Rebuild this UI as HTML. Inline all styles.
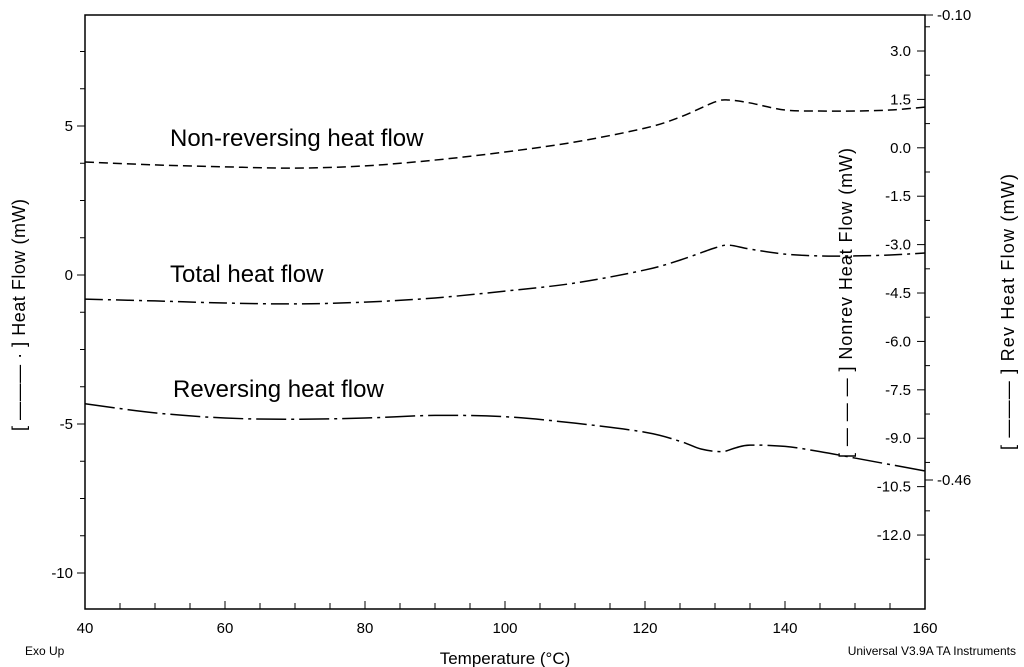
<!DOCTYPE html>
<html><head><meta charset="utf-8"><style>
html,body{margin:0;padding:0;background:#fff;}
svg{display:block;font-family:"Liberation Sans",Arial,sans-serif;}
</style></head><body>
<svg id="chart" width="1024" height="667" viewBox="0 0 1024 667">
<g id="axes"></g>
<g id="series"></g>
<text x="170" y="146" font-size="24">Non-reversing heat flow</text>
<text x="170" y="282" font-size="24">Total heat flow</text>
<text x="173" y="397" font-size="24">Reversing heat flow</text>
<text x="25" y="655" font-size="12">Exo Up</text>
<text x="505" y="664" font-size="17" text-anchor="middle">Temperature (°C)</text>
<text x="1016" y="655" font-size="12" text-anchor="end">Universal V3.9A TA Instruments</text>
<text transform="translate(25,315) rotate(-90)" font-size="18" text-anchor="middle" textLength="232">[ ——— · ] Heat Flow (mW)</text>
<text transform="translate(852,303) rotate(-90)" font-size="18" text-anchor="middle" textLength="310">[ — — — ] Nonrev Heat Flow (mW)</text>
<text transform="translate(1014,312) rotate(-90)" font-size="18" text-anchor="middle" textLength="276">[ ——— ] Rev Heat Flow (mW)</text>
</svg>
<script>
const temps = [40,50,60,70,80,90,100,110,120,125,130,132,135,140,145,150,155,160];
const nonrevVals = [-0.44,-0.53,-0.59,-0.63,-0.56,-0.38,-0.13,0.18,0.61,0.95,1.42,1.48,1.39,1.17,1.14,1.14,1.17,1.26];
const totalVals = [-0.81,-0.87,-0.94,-0.97,-0.91,-0.77,-0.54,-0.27,0.17,0.5,0.91,1.0,0.87,0.7,0.64,0.64,0.67,0.74];
const revTemps = [40,50,60,70,80,90,100,110,120,125,128,131,133,135,140,145,150,155,160];
const revVals = [-0.401,-0.408,-0.412,-0.413,-0.412,-0.410,-0.411,-0.416,-0.423,-0.430,-0.436,-0.438,-0.435,-0.433,-0.434,-0.438,-0.443,-0.448,-0.453];
const xTicks = [40,60,80,100,120,140,160];
const leftTicks = [5,0,-5,-10];
const nonrevTicks = [3.0,1.5,0.0,-1.5,-3.0,-4.5,-6.0,-7.5,-9.0,-10.5,-12.0];
const revTicks = [-0.10,-0.46];

const L=85,R=925,T=15,B=609;
const X=t=>L+(t-40)*(R-L)/120;
const YL=v=>275-v*29.8;
const YN=v=>147.8-v*32.27;
const YR=v=>15+(-0.10-v)*1291.7;
const NS="http://www.w3.org/2000/svg";
const axes=document.getElementById('axes'), ser=document.getElementById('series');
function mk(tag,attrs,parent){const e=document.createElementNS(NS,tag);for(const k in attrs)e.setAttribute(k,attrs[k]);parent.appendChild(e);return e;}
function ln(x1,y1,x2,y2,w){return mk('line',{x1,y1,x2,y2,stroke:'#000','stroke-width':w||1},axes);}

let fr=mk('rect',{x:L,y:T,width:R-L,height:B-T,fill:'none',stroke:'#000','stroke-width':1.5},axes);


for(let t=40;t<=160;t+=5){ln(X(t),B,X(t),B-(t%20===0?8:6));}
xTicks.forEach(t=>{const e=mk('text',{x:X(t),y:B+24,'font-size':15,'text-anchor':'middle'},axes);e.textContent=t;

});
for(let v=-11.25;v<=8.75;v+=1.25){if(YL(v)<T||YL(v)>B)continue;ln(L,YL(v),L-(v%5===0?8:5),YL(v));}
leftTicks.forEach(v=>{const e=mk('text',{x:L-12,y:YL(v)+5,'font-size':15,'text-anchor':'end'},axes);e.textContent=v;

});
nonrevTicks.forEach(v=>{ln(R,YN(v),R-8,YN(v));const e=mk('text',{x:R-14,y:YN(v)+5,'font-size':15,'text-anchor':'end'},axes);e.textContent=v.toFixed(1);

});
for(let v=3.75;v>-13.5;v-=1.5){ln(R,YN(v),R+5,YN(v));}
revTicks.forEach(v=>{ln(R,YR(v),R+8,YR(v));const e=mk('text',{x:R+12,y:YR(v)+5,'font-size':15},axes);e.textContent=v.toFixed(2);

});

function curve(xs,vs,yf,dash){
 const p=xs.map((t,i)=>[X(t),yf(vs[i])]);
 let d='M'+p[0][0]+','+p[0][1];
 for(let i=0;i<p.length-1;i++){const p0=p[Math.max(0,i-1)],p1=p[i],p2=p[i+1],p3=p[Math.min(p.length-1,i+2)];
  d+=' C'+(p1[0]+(p2[0]-p0[0])/6)+','+(p1[1]+(p2[1]-p0[1])/6)+' '+(p2[0]-(p3[0]-p1[0])/6)+','+(p2[1]-(p3[1]-p1[1])/6)+' '+p2[0]+','+p2[1];}
 return mk('path',{d,fill:'none',stroke:'#000','stroke-width':1.5,'stroke-dasharray':dash},ser);
}
const c1=curve(temps,nonrevVals,YN,'9,5');


const c2=curve(temps,totalVals,YL,'18,5,3,5');


const c3=curve(revTemps,revVals,YR,'30,5,3,5');


</script>
</body></html>
